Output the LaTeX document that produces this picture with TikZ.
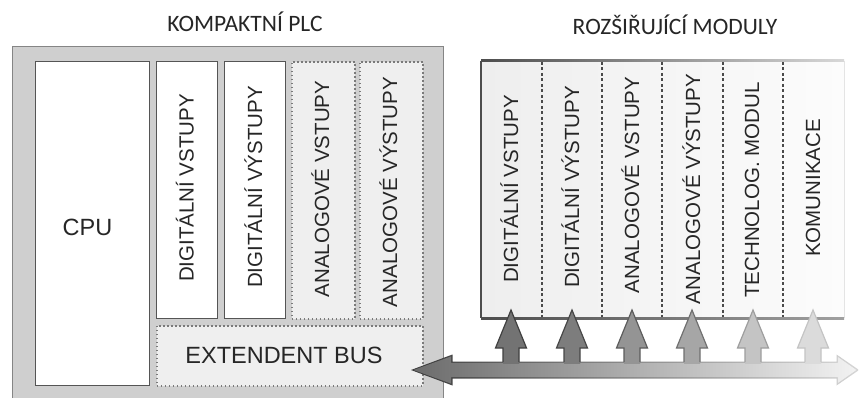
\documentclass[tikz,border=0pt]{standalone}
\usepackage{fontspec}
\setmainfont{Liberation Sans}
\newfontfamily\headfont{Carlito}
\definecolor{casegray}{HTML}{CFCFCF}
\definecolor{caseline}{HTML}{858585}
\definecolor{boxline}{HTML}{555555}
\definecolor{dotline}{HTML}{7A7A7A}
\definecolor{dotfill}{HTML}{EFEFEF}
\definecolor{ink}{HTML}{262626}
\definecolor{modfillL}{HTML}{EEEEEE}
\definecolor{modfillR}{HTML}{FCFCFC}
\definecolor{modedge}{HTML}{4D4D4D}
\definecolor{modedgeR}{HTML}{E4E4E4}
\definecolor{modtopR}{HTML}{D8D8D8}
\definecolor{modbotR}{HTML}{A0A0A0}
\definecolor{divline}{HTML}{4A4A4A}
\definecolor{busfillL}{HTML}{6C6C6C}
\definecolor{busfillR}{HTML}{F2F2F2}
\definecolor{buslineL}{HTML}{3A3A3A}
\definecolor{buslineR}{HTML}{D6D6D6}
\newcommand\digname{DIGIT\'ALN\'I}
\begin{document}
\begin{tikzpicture}[x=1pt, y=-1pt,
  solidbox/.style={draw=boxline, line width=1.4pt, fill=white, anchor=north west, inner sep=0pt},
  dotbox/.style={draw=dotline, line width=1.6pt, dash pattern=on 1.5pt off 2.5pt, fill=dotfill, anchor=north west, inner sep=0pt},
  vlabel/.style={rotate=90, anchor=base, inner sep=0pt, text=ink, font=\fontsize{20.5}{24}\selectfont},
  hlabel/.style={anchor=base, inner sep=0pt, text=ink, font=\fontsize{23.5}{28}\selectfont},
  headlabel/.style={anchor=base, inner sep=0pt, text=ink, font=\headfont\fontsize{23.5}{28}\selectfont},
]
\useasboundingbox (0,0) rectangle (859,398);
\clip (0,0) rectangle (859,398);
\fill[white] (0,0) rectangle (859,398);

% ---- compact PLC case ----
\node[draw=caseline, line width=1.4pt, fill=casegray, anchor=north west, inner sep=0pt,
      minimum width=431pt, minimum height=380pt] (case) at (12,46) {};
\node[headlabel] (plctitle) at (245,32) {KOMPAKTNÍ PLC};

\node[solidbox, minimum width=114pt, minimum height=324pt] (cpu) at (35,61) {};
\node[hlabel] (cpulabel) at (87.5,235) {CPU};

\node[solidbox, minimum width=61pt, minimum height=257pt] (din)  at (156,61) {};
\node[solidbox, minimum width=61pt, minimum height=257pt] (dout) at (224,61) {};
\node[dotbox,   minimum width=63pt, minimum height=257pt] (ain)  at (291,61) {};
\node[dotbox,   minimum width=63pt, minimum height=257pt] (aout) at (359,61) {};
\node[dotbox,   minimum width=266pt, minimum height=60pt] (bus) at (156,325) {};
\node[hlabel] (buslabel) at (284,363) {EXTENDENT BUS};

% rotated labels of the built-in I/O (base line sits 7.2pt right of the column axis)
\node[vlabel] (plcl1) at (193.7,188) {\digname{} VSTUPY};
\node[vlabel] (plcl2) at (262.2,187) {\digname{} VÝSTUPY};
\node[vlabel] (plcl3) at (329.2,189) {ANALOGOVÉ VSTUPY};
\node[vlabel] (plcl4) at (397.2,192) {ANALOGOVÉ VÝSTUPY};

% ---- expansion modules ----
\node[headlabel] (modtitle) at (675,35) {ROZŠIŘUJÍCÍ MODULY};
\node[left color=modfillL, right color=modfillR, anchor=north west, inner sep=0pt,
      minimum width=363pt, minimum height=257pt] (modules) at (481,61) {};
\draw[modedgeR, line width=1pt] (modules.north east) -- (modules.south east);
\shade[left color=modedge, right color=modtopR] (481,60) rectangle (844,62);
\shade[left color=modedge, right color=modbotR] (481,317) rectangle (844,319);
\draw[modedge, line width=1.6pt] (modules.north west) -- (modules.south west);
\foreach \x in {542,602,662,723,783}
  \draw[divline, line width=1.3pt, dash pattern=on 3pt off 2.5pt] (\x,62) -- (\x,317);

\node[vlabel] (modl1) at (518.2,189) {\digname{} VSTUPY};
\node[vlabel] (modl2) at (579.2,187) {\digname{} VÝSTUPY};
\node[vlabel] (modl3) at (639.2,185) {ANALOGOVÉ VSTUPY};
\node[vlabel] (modl4) at (700.2,189) {ANALOGOVÉ VÝSTUPY};
\node[vlabel] (modl5) at (759.2,190) {TECHNOLOG. MODUL};
\node[vlabel] (modl6) at (820.2,188) {KOMUNIKACE};

% ---- bus double arrow ----
\coordinate (busL) at (411,370);
\coordinate (busR) at (859,370);
\shade[left color=buslineL, right color=buslineR]
  (busL) -- (452.5,354.5) -- (452.5,361.5) -- (836.5,361.5) -- (836.5,354.5) -- (busR)
  -- (836.5,385.5) -- (836.5,378.5) -- (452.5,378.5) -- (452.5,385.5) -- cycle;
\shade[left color=busfillL, right color=busfillR]
  (413.5,370) -- (451.2,356.4) -- (451.2,362.8) -- (837.8,362.8) -- (837.8,357) -- (856.3,370)
  -- (837.8,383) -- (837.8,377.2) -- (451.2,377.2) -- (451.2,383.6) -- cycle;

% ---- arrows from the bus up to each module ----
\foreach \cx/\fc/\lc [count=\i] in {511/0.45/0.25, 572/0.49/0.28, 632/0.58/0.36,
    692/0.65/0.44, 753/0.77/0.62, 813/0.86/0.77} {
  \definecolor{arrfill}{gray}{\fc}
  \definecolor{arrline}{gray}{\lc}
  \coordinate (tip\i) at (\cx,310);
  \fill[arrfill] (tip\i) -- ++(15.5,38) -- ++(-7.5,0) -- ++(0,15.8) -- ++(-16,0)
    -- ++(0,-15.8) -- ++(-7.5,0) -- cycle;
  \draw[arrline, line width=1.2pt, line join=miter]
    (tip\i) ++(-8,52) -- ++(0,-14) -- ++(-7.5,0) -- (tip\i) -- ++(15.5,38) -- ++(-7.5,0) -- ++(0,14);
}
\end{tikzpicture}
\end{document}
